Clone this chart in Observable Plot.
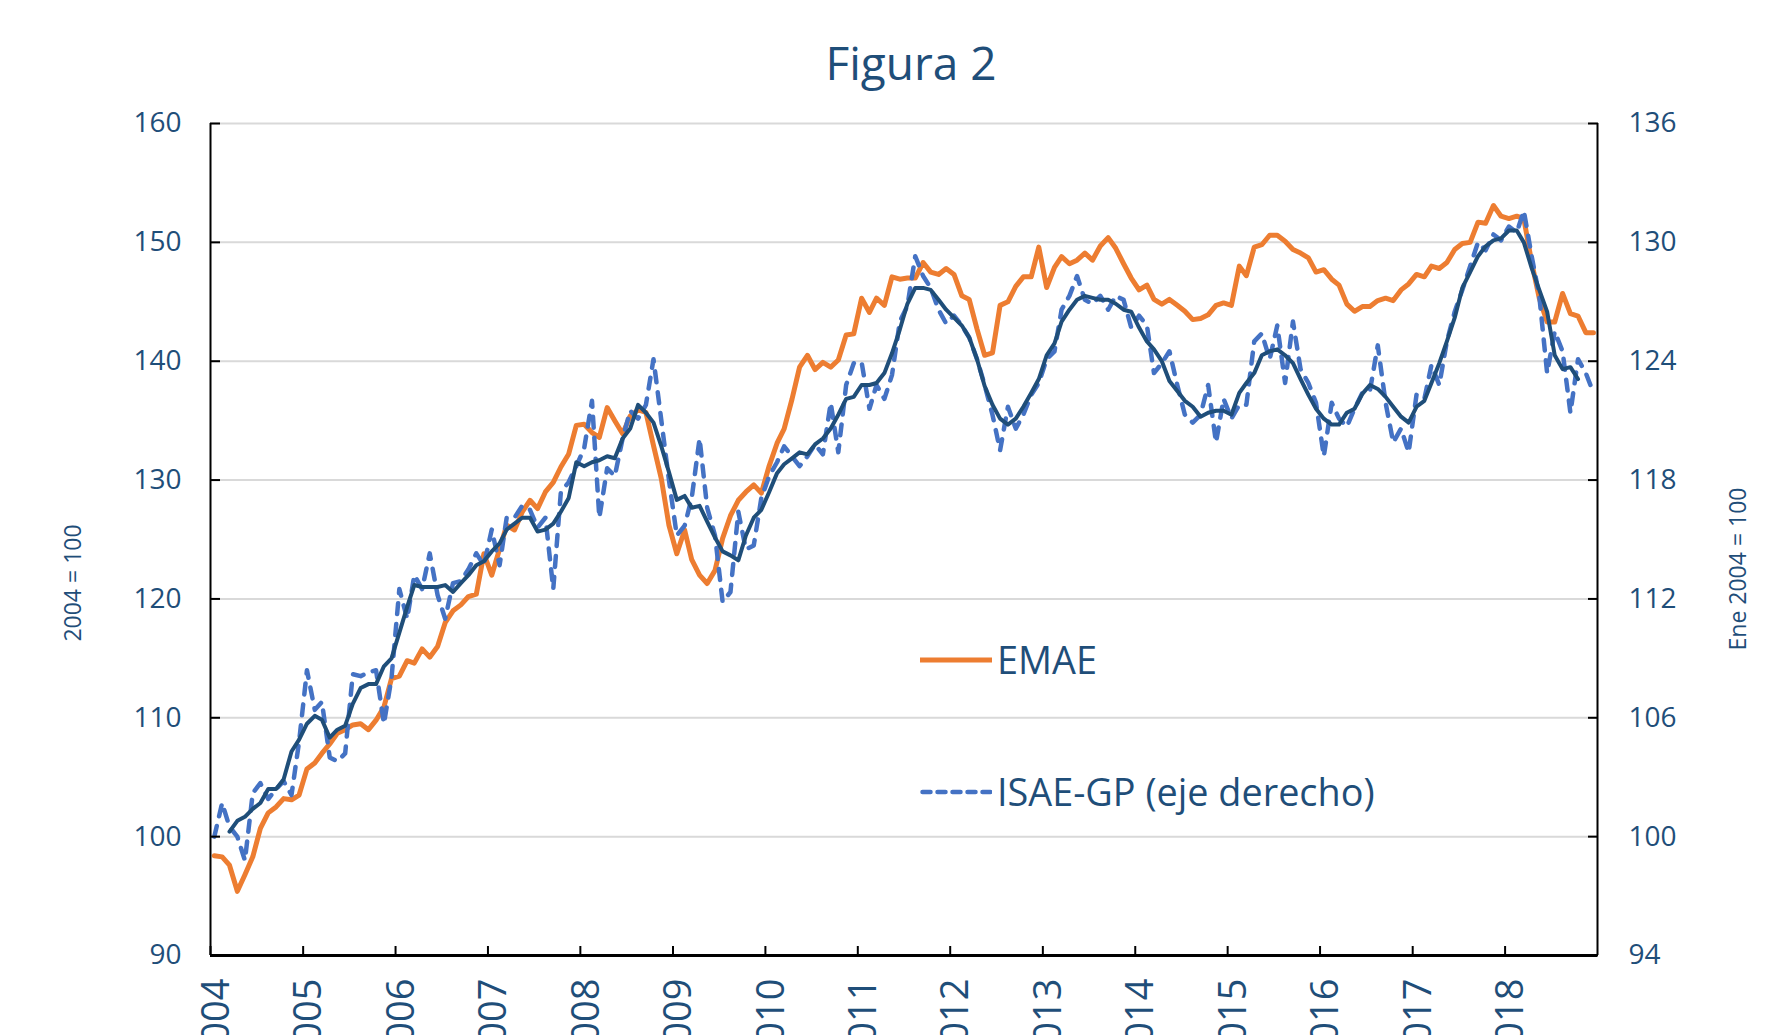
<!DOCTYPE html>
<html><head><meta charset="utf-8">
<script src="https://cdn.jsdelivr.net/npm/d3@7"></script>
<script src="https://cdn.jsdelivr.net/npm/@observablehq/plot@0.6"></script>
<style>
html,body{margin:0;padding:0;background:#fff;overflow:hidden;width:1775px;height:1035px;}
#wrap{position:relative;width:1775px;height:1035px;font-family:"Open Sans",sans-serif;color:#1F4E79;}
#title{position:absolute;left:911px;top:39px;transform:translateX(-50%);font-size:46px;line-height:1;white-space:nowrap;}
#chart{position:absolute;left:0;top:100px;}
.ytitle{position:absolute;font-size:23px;line-height:1;white-space:nowrap;transform:translate(-50%,-50%) rotate(-90deg);}
.leg{position:absolute;left:920px;height:50px;display:flex;align-items:center;font-size:37.8px;line-height:1;white-space:nowrap;}
.leg svg{display:block;margin-right:5px;}
</style></head>
<body>
<div id="wrap">
  <div id="title">Figura 2</div>
  <div id="chart"></div>
  <div class="ytitle" style="left:72px;top:583px;">2004 = 100</div>
  <div class="ytitle" style="left:1737px;top:569px;">Ene 2004 = 100</div>
  <div class="leg" style="top:635px;"><svg width="72" height="10"><line x1="0" x2="72" y1="5" y2="5" stroke="#ED7D31" stroke-width="5"/></svg><span>EMAE</span></div>
  <div class="leg" style="top:767px;"><svg width="72" height="10"><line x1="2.5" x2="72" y1="5" y2="5" stroke="#4472C4" stroke-width="4.5" stroke-dasharray="8,7" stroke-linecap="round"/></svg><span>ISAE-GP (eje derecho)</span></div>
</div>
<script>
// Monthly series, Jan 2004 – Dec 2018
const startYear = 2004;
const emae = [
 98.4, 98.3, 97.6, 95.4, 96.8, 98.3, 100.7, 102.0, 102.5, 103.2,
 103.1, 103.5, 105.7, 106.2, 107.0, 107.8, 108.7, 109.0, 109.4, 109.5,
 109.0, 109.8, 110.9, 113.3, 113.5, 114.8, 114.6, 115.8, 115.1, 116.0,
 118.0, 119.0, 119.5, 120.2, 120.4, 123.8, 122.0, 124.2, 126.2, 125.8,
 127.3, 128.3, 127.6, 129.0, 129.8, 131.1, 132.2, 134.6, 134.7, 134.0,
 133.6, 136.1, 135.0, 133.9, 135.4, 135.9, 135.7, 132.9, 130.1, 126.2,
 123.8, 125.8, 123.3, 122.0, 121.3, 122.4, 125.1, 127.0, 128.3, 129.0,
 129.6, 128.9, 131.2, 133.1, 134.3, 136.8, 139.5, 140.5, 139.3, 139.9,
 139.5, 140.1, 142.2, 142.3, 145.3, 144.1, 145.3, 144.7, 147.1, 146.9,
 147.0, 147.0, 148.3, 147.5, 147.3, 147.8, 147.3, 145.5, 145.2, 142.7,
 140.5, 140.7, 144.7, 145.0, 146.3, 147.1, 147.1, 149.6, 146.2, 147.9,
 148.8, 148.2, 148.5, 149.1, 148.5, 149.7, 150.4, 149.5, 148.2, 147.0,
 146.0, 146.4, 145.2, 144.8, 145.2, 144.7, 144.2, 143.5, 143.6, 143.9,
 144.7, 144.9, 144.7, 148.0, 147.2, 149.6, 149.8, 150.6, 150.6, 150.1,
 149.4, 149.1, 148.7, 147.5, 147.7, 146.9, 146.4, 144.8, 144.2, 144.6,
 144.6, 145.1, 145.3, 145.1, 146.0, 146.5, 147.3, 147.1, 148.0, 147.8,
 148.3, 149.4, 149.9, 150.0, 151.7, 151.6, 153.1, 152.2, 152.0, 152.2,
 152.0, 148.3, 145.3, 143.3, 143.3, 145.7, 144.0, 143.8, 142.4, 142.4
];
// ISAE-GP (right axis, Ene 2004 = 100)
const isae = [
 100.0, 101.7, 100.5, 100.0, 98.8, 102.2, 102.7, 101.9, 102.4, 102.8,
 102.1, 104.8, 108.4, 106.4, 106.8, 104.0, 103.8, 104.2, 108.2, 108.1,
 108.3, 108.4, 105.7, 108.0, 112.5, 111.0, 113.2, 112.5, 114.3, 112.2,
 111.0, 112.8, 112.9, 113.5, 114.3, 113.7, 115.5, 113.7, 116.1, 116.1,
 116.7, 116.5, 115.6, 116.1, 112.5, 117.4, 117.9, 118.7, 119.6, 122.0,
 116.1, 118.6, 118.2, 120.1, 121.5, 121.1, 121.8, 124.1, 121.0, 118.0,
 115.2, 115.7, 117.1, 120.1, 116.6, 115.2, 111.85, 112.35, 116.4, 114.5,
 114.7, 117.1, 118.2, 118.9, 119.7, 119.2, 118.7, 119.2, 119.8, 119.3,
 121.9, 119.4, 122.8, 123.9, 123.95, 121.6, 122.8, 122.1, 123.3, 126.0,
 126.8, 129.3, 128.3, 127.7, 126.6, 125.9, 126.3, 125.8, 125.2, 124.1,
 122.8, 121.3, 119.5, 121.7, 120.6, 121.3, 122.3, 122.9, 124.1, 124.5,
 126.6, 127.3, 128.3, 127.1, 126.9, 127.3, 126.6, 127.3, 127.1, 125.7,
 126.3, 125.8, 123.4, 123.9, 124.5, 122.8, 121.3, 120.9, 121.3, 122.8,
 119.9, 122.1, 121.1, 121.8, 121.8, 125.0, 125.4, 124.1, 125.8, 122.9,
 126.0, 123.6, 122.9, 121.9, 119.2, 121.9, 121.1, 120.7, 121.6, 122.4,
 122.5, 124.8, 121.9, 119.9, 120.6, 119.4, 122.3, 122.1, 123.8, 122.8,
 125.0, 126.5, 127.6, 128.8, 130.0, 129.6, 130.4, 130.1, 130.8, 130.5,
 131.6, 129.3, 127.3, 123.4, 125.5, 124.5, 121.4, 124.1, 123.4, 122.4
];
// Smoothed ISAE-GP (right axis), Mar 2004 – Oct 2018
const trendStart = 2;
const trend = [
 100.25, 100.8, 101.0, 101.4, 101.7, 102.4, 102.4, 102.9,
 104.3, 104.9, 105.7, 106.1, 105.9, 105.0, 105.4, 105.6, 106.7, 107.5,
 107.7, 107.7, 108.6, 109.0, 110.3, 111.6, 112.7, 112.6, 112.6, 112.6,
 112.7, 112.35, 112.8, 113.2, 113.7, 113.9, 114.4, 114.8, 115.5, 115.8,
 116.1, 116.1, 115.4, 115.5, 115.8, 116.4, 117.1, 118.9, 118.7, 118.9,
 119.0, 119.2, 119.1, 120.1, 120.6, 121.8, 121.4, 120.9, 119.7, 118.4,
 117.0, 117.2, 116.6, 116.7, 115.9, 115.1, 114.4, 114.2, 113.95, 115.2,
 116.1, 116.5, 117.4, 118.35, 118.8, 119.1, 119.4, 119.3, 119.8, 120.1,
 120.6, 121.3, 122.1, 122.2, 122.8, 122.8, 122.9, 123.4, 124.4, 125.6,
 126.9, 127.7, 127.7, 127.6, 127.1, 126.6, 126.2, 125.8, 125.2, 124.1,
 122.75, 121.8, 121.1, 120.8, 121.1, 121.7, 122.4, 123.1, 124.3, 124.9,
 126.0, 126.6, 127.1, 127.3, 127.2, 127.1, 127.1, 126.9, 126.6, 126.5,
 125.7, 125.0, 124.6, 124.0, 123.0, 122.5, 122.0, 121.7, 121.2, 121.4,
 121.5, 121.5, 121.3, 122.4, 122.9, 123.4, 124.3, 124.5, 124.6, 124.3,
 123.9, 123.1, 122.3, 121.6, 121.1, 120.8, 120.8, 121.4, 121.6, 122.35,
 122.8, 122.6, 122.2, 121.7, 121.2, 120.9, 121.7, 122.0, 122.9, 123.9,
 125.0, 126.2, 127.7, 128.5, 129.3, 129.8, 130.1, 130.2, 130.6, 130.6,
 130.0, 128.7, 127.6, 126.5, 124.3, 123.6, 123.7, 123.1
];
const leftTicks = [90, 100, 110, 120, 130, 140, 150, 160];
const rightTicks = [94, 100, 106, 112, 118, 124, 130, 136];
const yearLabels = ["2004","2005","2006","2007","2008","2009","2010","2011","2012","2013","2014","2015","2016","2017","2018"];

// map right-axis values onto the left-axis scale (94↔90, 136↔160)
const rMin = rightTicks[0], rMax = rightTicks[rightTicks.length-1];
const lMin = leftTicks[0], lMax = leftTicks[leftTicks.length-1];
const toLeft = r => lMin + (r - rMin) * (lMax - lMin) / (rMax - rMin);
const rightLabel = new Map(leftTicks.map((d, i) => [d, String(rightTicks[i])]));

const monthDate = i => new Date(Date.UTC(startYear, i, 16));
const dataE = emae.map((v, i) => ({date: monthDate(i), v}));
const dataI = isae.map((r, i) => ({date: monthDate(i), v: toLeft(r)}));
const dataT = trend.map((r, i) => ({date: monthDate(i + trendStart), v: toLeft(r)}));
const yearTicks = yearLabels.map(y => new Date(Date.UTC(+y, 0, 1)));
const xStart = new Date(Date.UTC(startYear, 0, 1));
const xEnd = new Date(Date.UTC(+yearLabels[yearLabels.length-1] + 1, 0, 1));

const chart = Plot.plot({
  width: 1775, height: 935,
  marginLeft: 210, marginRight: 178, marginTop: 23, marginBottom: 80,
  style: {fontFamily: '"Open Sans", sans-serif', color: "#1F4E79", background: "white", overflow: "visible"},
  x: {type: "utc", domain: [xStart, xEnd]},
  y: {domain: [lMin, lMax]},
  marks: [
    Plot.ruleY(leftTicks.filter(d => d > lMin), {stroke: "#d9d9d9", strokeWidth: 2}),
    Plot.line(dataE, {x: "date", y: "v", stroke: "#ED7D31", strokeWidth: 5, strokeLinejoin: "round"}),
    Plot.line(dataI, {x: "date", y: "v", stroke: "#4472C4", strokeWidth: 4.5, strokeDasharray: "11,10", strokeLinecap: "round", strokeLinejoin: "round"}),
    Plot.line(dataT, {x: "date", y: "v", stroke: "#1F4E79", strokeWidth: 4, strokeLinejoin: "round"}),
    Plot.ruleX([xStart, xEnd], {stroke: "black", strokeWidth: 2}),
    Plot.ruleY([lMin], {stroke: "black", strokeWidth: 3}),
    Plot.axisY({anchor: "left", ticks: leftTicks, tickSize: 10, tickPadding: 19, fontSize: 28, label: null}),
    Plot.axisY({anchor: "right", ticks: leftTicks, tickFormat: d => rightLabel.get(d), tickSize: 10, tickPadding: 21, fontSize: 28, label: null}),
    Plot.axisX({ticks: yearTicks, tickFormat: () => "", tickSize: 9, label: null}),
    Plot.axisX({ticks: yearTicks, tickFormat: d3.utcFormat("%Y"), tickSize: 0, tickPadding: 23, tickRotate: -90, fontSize: 38, label: null, dx: 6})
  ]
});

// point the tick marks inward and make them black
d3.select(chart).selectAll('g[aria-label$="axis tick"]').attr("stroke", "black").attr("stroke-width", 2);
d3.select(chart).selectAll('g[aria-label$="axis tick"] path').each(function() {
  const d = this.getAttribute("d");
  if (!d) return;
  this.setAttribute("d", d.replace(/L(-?[\d.]+),(-?[\d.]+)/, (m, a, b) => `L${-a},${-b}`));
});
document.getElementById("chart").appendChild(chart);
</script>
</body></html>
